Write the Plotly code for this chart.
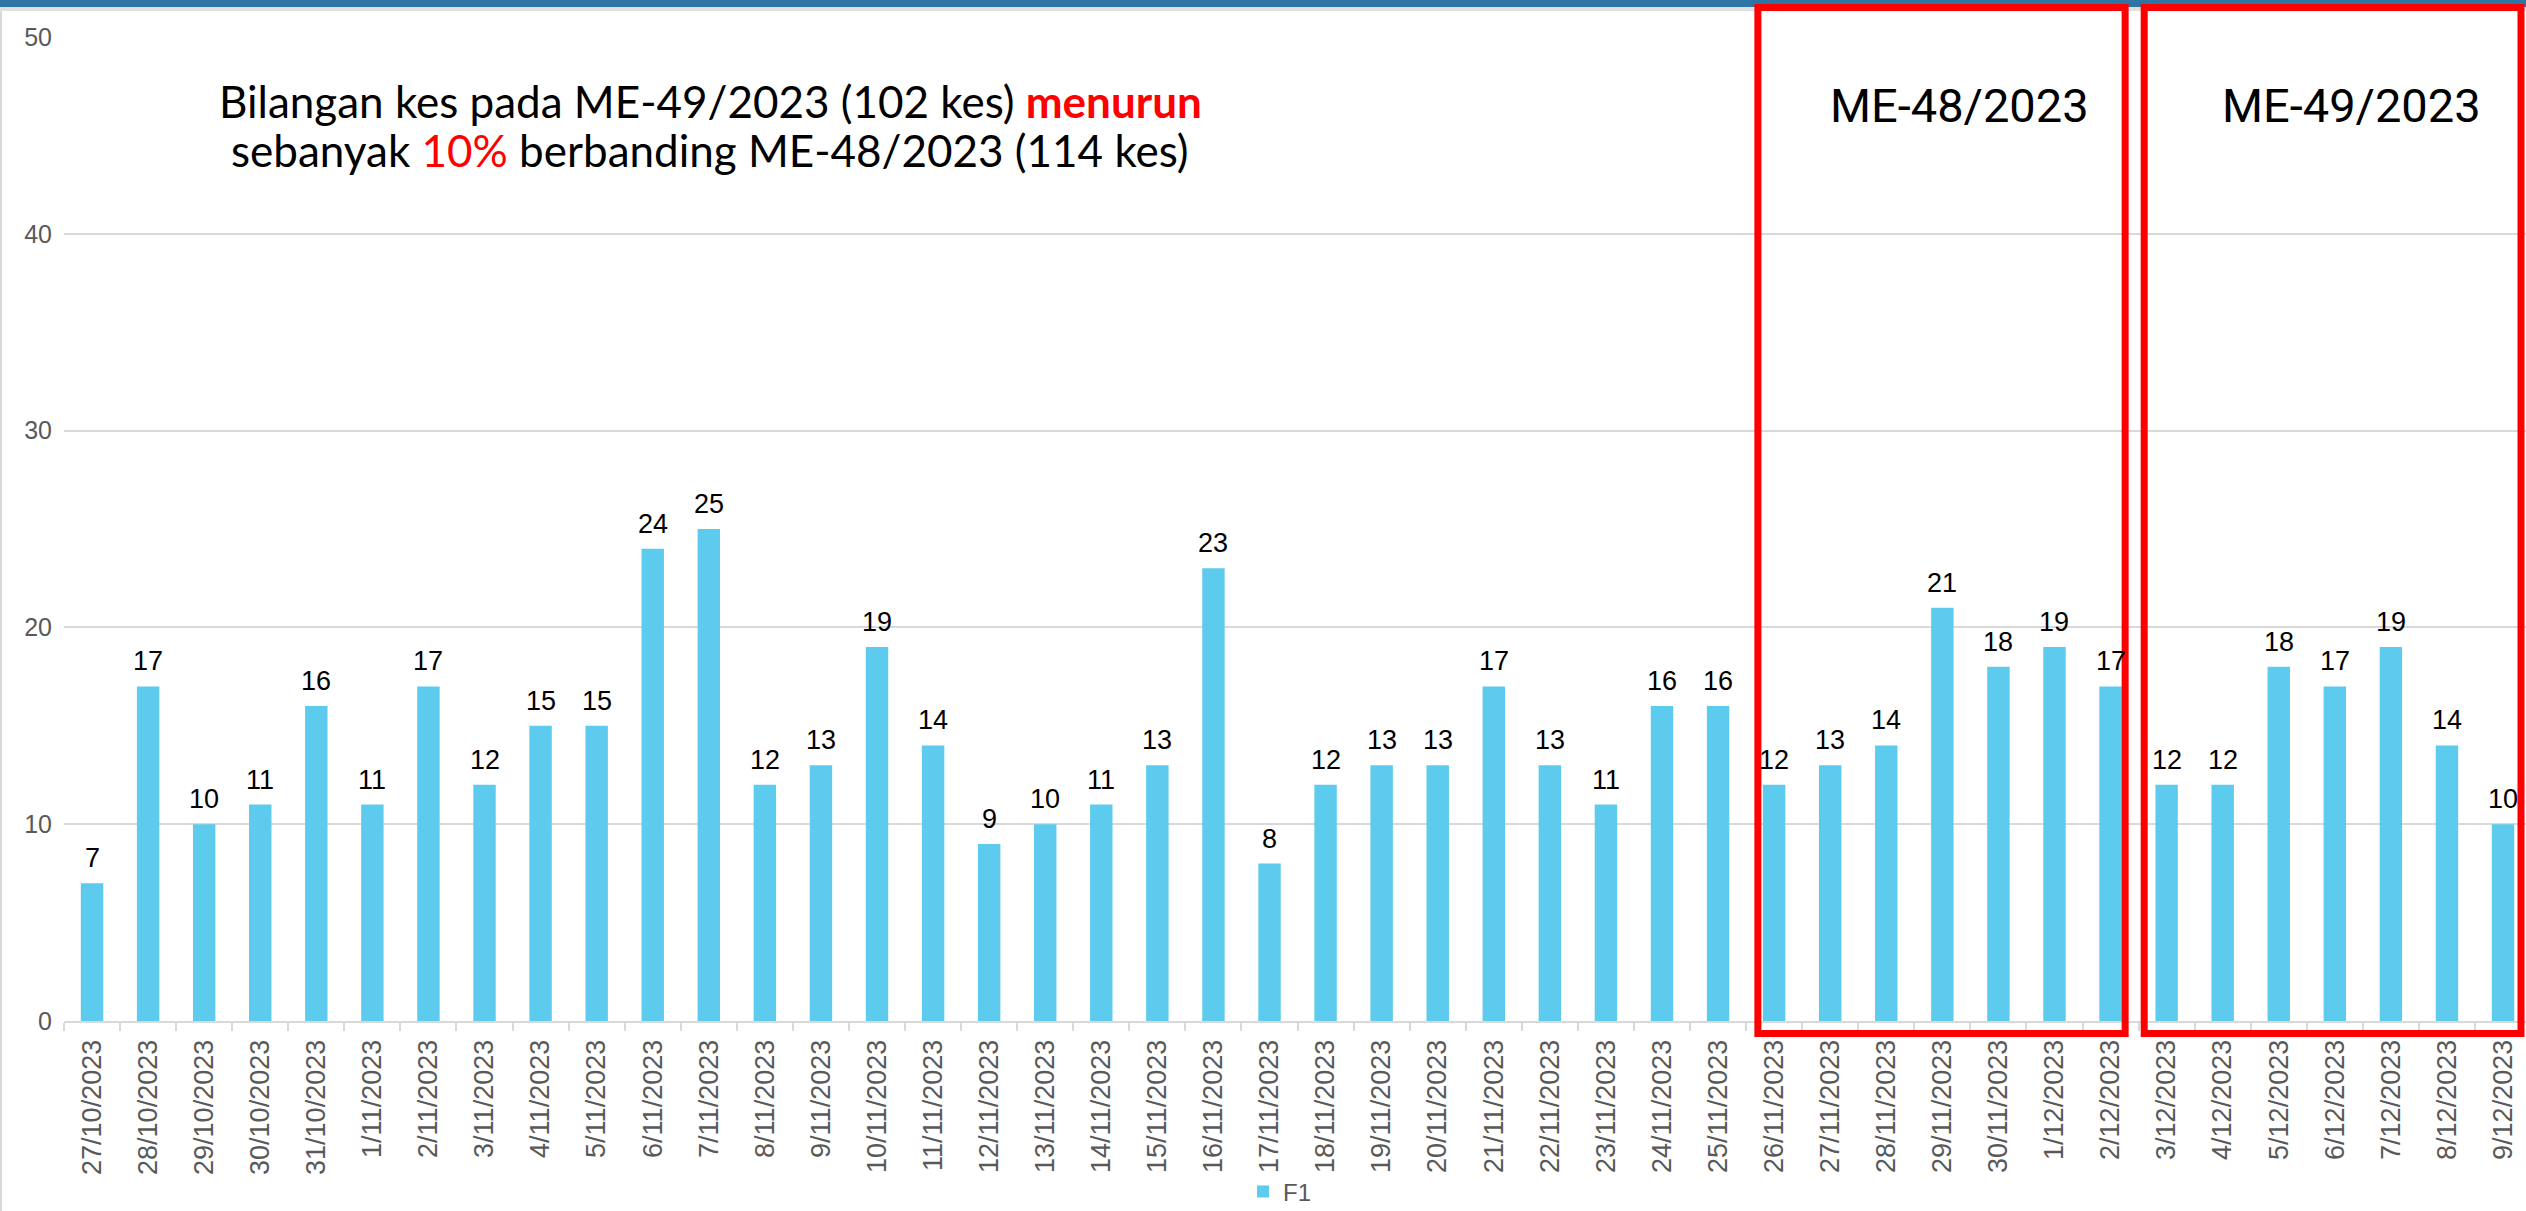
import plotly.graph_objects as go

# ---------------- data ----------------
dates = [
    "27/10/2023", "28/10/2023", "29/10/2023", "30/10/2023", "31/10/2023",
    "1/11/2023", "2/11/2023", "3/11/2023", "4/11/2023", "5/11/2023",
    "6/11/2023", "7/11/2023", "8/11/2023", "9/11/2023", "10/11/2023",
    "11/11/2023", "12/11/2023", "13/11/2023", "14/11/2023", "15/11/2023",
    "16/11/2023", "17/11/2023", "18/11/2023", "19/11/2023", "20/11/2023",
    "21/11/2023", "22/11/2023", "23/11/2023", "24/11/2023", "25/11/2023",
    "26/11/2023", "27/11/2023", "28/11/2023", "29/11/2023", "30/11/2023",
    "1/12/2023", "2/12/2023", "3/12/2023", "4/12/2023", "5/12/2023",
    "6/12/2023", "7/12/2023", "8/12/2023", "9/12/2023",
]
cases = [
    7, 17, 10, 11, 16,
    11, 17, 12, 15, 15,
    24, 25, 12, 13, 19,
    14, 9, 10, 11, 13,
    23, 8, 12, 13, 13,
    17, 13, 11, 16, 16,
    12, 13, 14, 21, 18,
    19, 17, 12, 12, 18,
    17, 19, 14, 10,
]
series_name = "F1"
week_labels = ["ME-48/2023", "ME-49/2023"]
week_first = ["26/11/2023", "3/12/2023"]
week_last = ["2/12/2023", "9/12/2023"]
y_ticks = [0, 10, 20, 30, 40, 50]
headline_1 = ("Bilangan kes pada ME-49/2023 (102 kes) "
              "<b><span style='color:#FF0000'>menurun</span></b>")
headline_2 = ("sebanyak <span style='color:#FF0000'>10%</span> "
              "berbanding ME-48/2023 (114 kes)")

# ---------------- layout geometry ----------------
W, H = 2526, 1211
ml, mr, mt, mb = 64, 0, 37, 190
plot_w = W - ml - mr
plot_h = H - mt - mb
cat_px = 56.07
x_hi = -0.5 + plot_w / cat_px


def pyp(p):  # pixel y -> paper
    return (H - mb - p) / plot_h


def pxp(p):  # pixel x -> paper
    return (p - ml) / plot_w


BAR = "#5DCBEE"
GRID = "#D9D9D9"
TXT = "#595959"

fig = go.Figure()
fig.add_trace(go.Bar(
    x=dates, y=cases, name=series_name, width=0.4,
    marker=dict(color=BAR, line=dict(width=0)),
    showlegend=True,
))

annotations = []
for d, v in zip(dates, cases):
    annotations.append(dict(
        x=d, y=v, xref="x", yref="y", text=str(v), showarrow=False,
        yanchor="bottom", yshift=8,
        font=dict(family="Liberation Sans, Arial", size=27, color="#000000"),
    ))

# headline text (two lines)
for txt, yc in [(headline_1, 101), (headline_2, 150)]:
    annotations.append(dict(
        xref="paper", yref="paper", x=pxp(710), y=pyp(yc),
        xanchor="center", yanchor="middle", showarrow=False, align="center",
        text=txt,
        font=dict(family="Lato, Carlito, sans-serif", size=44, color="#000000"),
    ))

shapes = []
# top blue band and shadow
shapes.append(dict(type="rect", xref="paper", yref="paper",
                   x0=pxp(0), x1=pxp(W), y0=pyp(7), y1=pyp(0),
                   fillcolor="#2E75A5", line=dict(width=0), layer="above"))
shapes.append(dict(type="rect", xref="paper", yref="paper",
                   x0=pxp(0), x1=pxp(W), y0=pyp(11), y1=pyp(7),
                   fillcolor="rgba(0,0,0,0.12)", line=dict(width=0), layer="above"))
# left frame line
shapes.append(dict(type="line", xref="paper", yref="paper",
                   x0=pxp(1), x1=pxp(1), y0=pyp(H), y1=pyp(11),
                   line=dict(color=GRID, width=2)))

pads = [(-0.29, 0.26), (-0.40, 0.32)]
for lab, a, b, (pa, pb) in zip(week_labels, week_first, week_last, pads):
    i0 = dates.index(a)
    i1 = dates.index(b)
    shapes.append(dict(type="rect", xref="x", yref="paper",
                       x0=i0 + pa, x1=i1 + pb, y0=pyp(1033.5), y1=pyp(7.5),
                       line=dict(color="#FF0000", width=7),
                       fillcolor="rgba(0,0,0,0)", layer="above"))
    annotations.append(dict(
        xref="x", yref="paper", x=(i0 + i1) / 2 + 0.3, y=pyp(106),
        xanchor="center", yanchor="middle", showarrow=False, text=lab,
        font=dict(family="Roboto, sans-serif", size=47, color="#000000"),
    ))

fig.update_layout(
    width=W, height=H,
    margin=dict(l=ml, r=mr, t=mt, b=mb, pad=0, autoexpand=False),
    paper_bgcolor="#FFFFFF", plot_bgcolor="#FFFFFF",
    bargap=0.6,
    showlegend=True,
    legend=dict(orientation="h", x=pxp(1243), xanchor="left",
                y=pyp(1192), yanchor="middle",
                font=dict(family="Liberation Sans, Arial", size=24, color=TXT),
                bgcolor="rgba(0,0,0,0)"),
    xaxis=dict(type="category", range=[-0.5, x_hi], automargin=False,
               tickangle=-90, tickson="boundaries",
               ticks="outside", ticklen=8, tickwidth=2, tickcolor=GRID,
               showline=True, linecolor=GRID, linewidth=2,
               showgrid=False, ticklabelstandoff=6,
               tickfont=dict(family="Liberation Sans, Arial", size=27, color=TXT)),
    yaxis=dict(range=[0, 50], tickvals=y_ticks, showgrid=True, automargin=False,
               gridcolor=GRID, gridwidth=1.5, zeroline=False,
               showline=False, ticks="", ticklabelstandoff=11,
               tickfont=dict(family="Liberation Sans, Arial", size=25, color=TXT)),
    annotations=annotations,
    shapes=shapes,
)

fig.write_html(
    "out.html",
    config={"displayModeBar": False},
    post_script="document.body.style.margin='0px';document.body.style.overflow='hidden';",
)
